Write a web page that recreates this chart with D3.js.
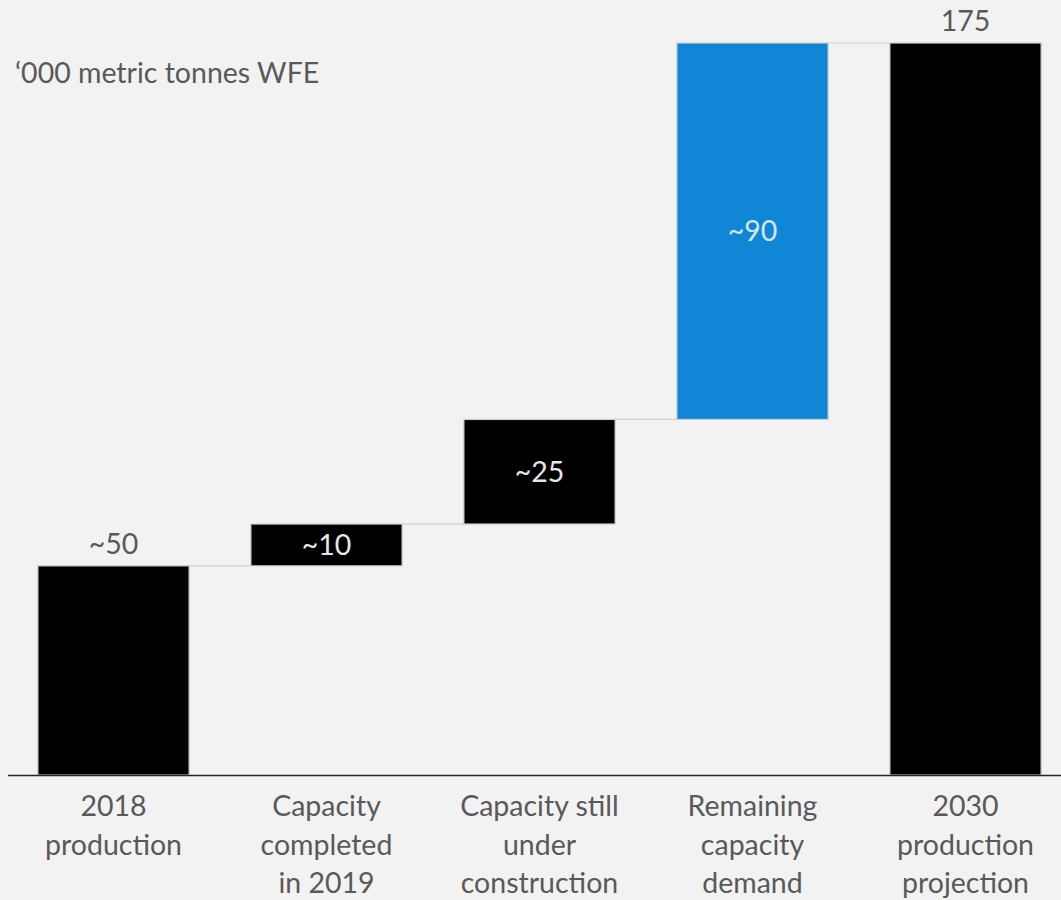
<!DOCTYPE html>
<html><head><meta charset="utf-8">
<script src="https://d3js.org/d3.v7.min.js"></script>
<style>
html,body{margin:0;padding:0;background:#f2f2f2;}
svg{display:block;font-family:Lato,"Open Sans",sans-serif;}
</style></head>
<body>
<script>
const categories = [["2018","production"],["Capacity","completed","in 2019"],["Capacity still","under","construction"],["Remaining","capacity","demand"],["2030","production","projection"]];
const values = [50, 10, 25, 90, 175];
const valueLabels = ["~50","~10","~25","~90","175"];
const kinds = ["total","step","step","step","total"];
const unitLabel = "\u2018000 metric tonnes WFE";

const W = 1061, H = 900;
const FS = 28.5;
const svg = d3.select("body").append("svg").attr("width", W).attr("height", H);
svg.append("rect").attr("width", W).attr("height", H).attr("fill", "#f2f2f2");

let run = 0;
const data = values.map((v,i) => {
  let start, end;
  if (kinds[i] === "total") { start = 0; end = v; run = v; }
  else { start = run; end = run + v; run = end; }
  return {i, v, start, end, label: valueLabels[i], cat: categories[i], kind: kinds[i]};
});

const x = d3.scaleBand().domain(d3.range(values.length)).range([7, 1072]).paddingInner(0.29).paddingOuter(0.145);
const y = d3.scaleLinear().domain([0, 175]).range([775, 43]);

const fills = ["#000000","#000000","#000000","#0f87d6","#000000"];
const inner = ["#e6e6e6","#e6e6e6","#e6e6e6","#d6e6f2","#e6e6e6"];

for (let i = 0; i < data.length - 1; i++) {
  const yy = y(data[i].end);
  svg.append("line")
    .attr("x1", x(i) + x.bandwidth()).attr("x2", x(i+1))
    .attr("y1", yy).attr("y2", yy)
    .attr("stroke", "#d0d0d0").attr("stroke-width", 1.2);
}

svg.selectAll("rect.bar").data(data).enter().append("rect")
  .attr("class","bar")
  .attr("x", d => x(d.i))
  .attr("width", x.bandwidth())
  .attr("y", d => y(d.end))
  .attr("height", d => y(d.start) - y(d.end))
  .attr("fill", (d,i) => fills[i])
  .attr("stroke", "#cfcfcf").attr("stroke-width", 1.2);

svg.append("line").attr("x1", 8).attr("x2", W).attr("y1", y(0)+0.5).attr("y2", y(0)+0.5)
  .attr("stroke", "#262626").attr("stroke-width", 1.5);

data.forEach(d => {
  const cx = x(d.i) + x.bandwidth()/2;
  if (d.kind === "total") {
    svg.append("text").attr("x", cx).attr("y", y(d.end) - 12)
      .attr("text-anchor","middle").attr("font-size", FS).attr("fill", "#595959").text(d.label);
  } else {
    svg.append("text").attr("x", cx).attr("y", (y(d.start)+y(d.end))/2)
      .attr("dy","0.35em")
      .attr("text-anchor","middle").attr("font-size", FS).attr("fill", inner[d.i]).text(d.label);
  }
});

data.forEach(d => {
  const cx = x(d.i) + x.bandwidth()/2;
  const t = svg.append("text").attr("text-anchor","middle").attr("font-size", FS).attr("fill", "#595959");
  d.cat.forEach((line, j) => {
    t.append("tspan").attr("x", cx).attr("y", 816 + j*38.5).text(line);
  });
});

svg.append("text").attr("x", 15).attr("y", 83).attr("font-size", FS).attr("fill", "#595959").text(unitLabel);
</script>
</body></html>
